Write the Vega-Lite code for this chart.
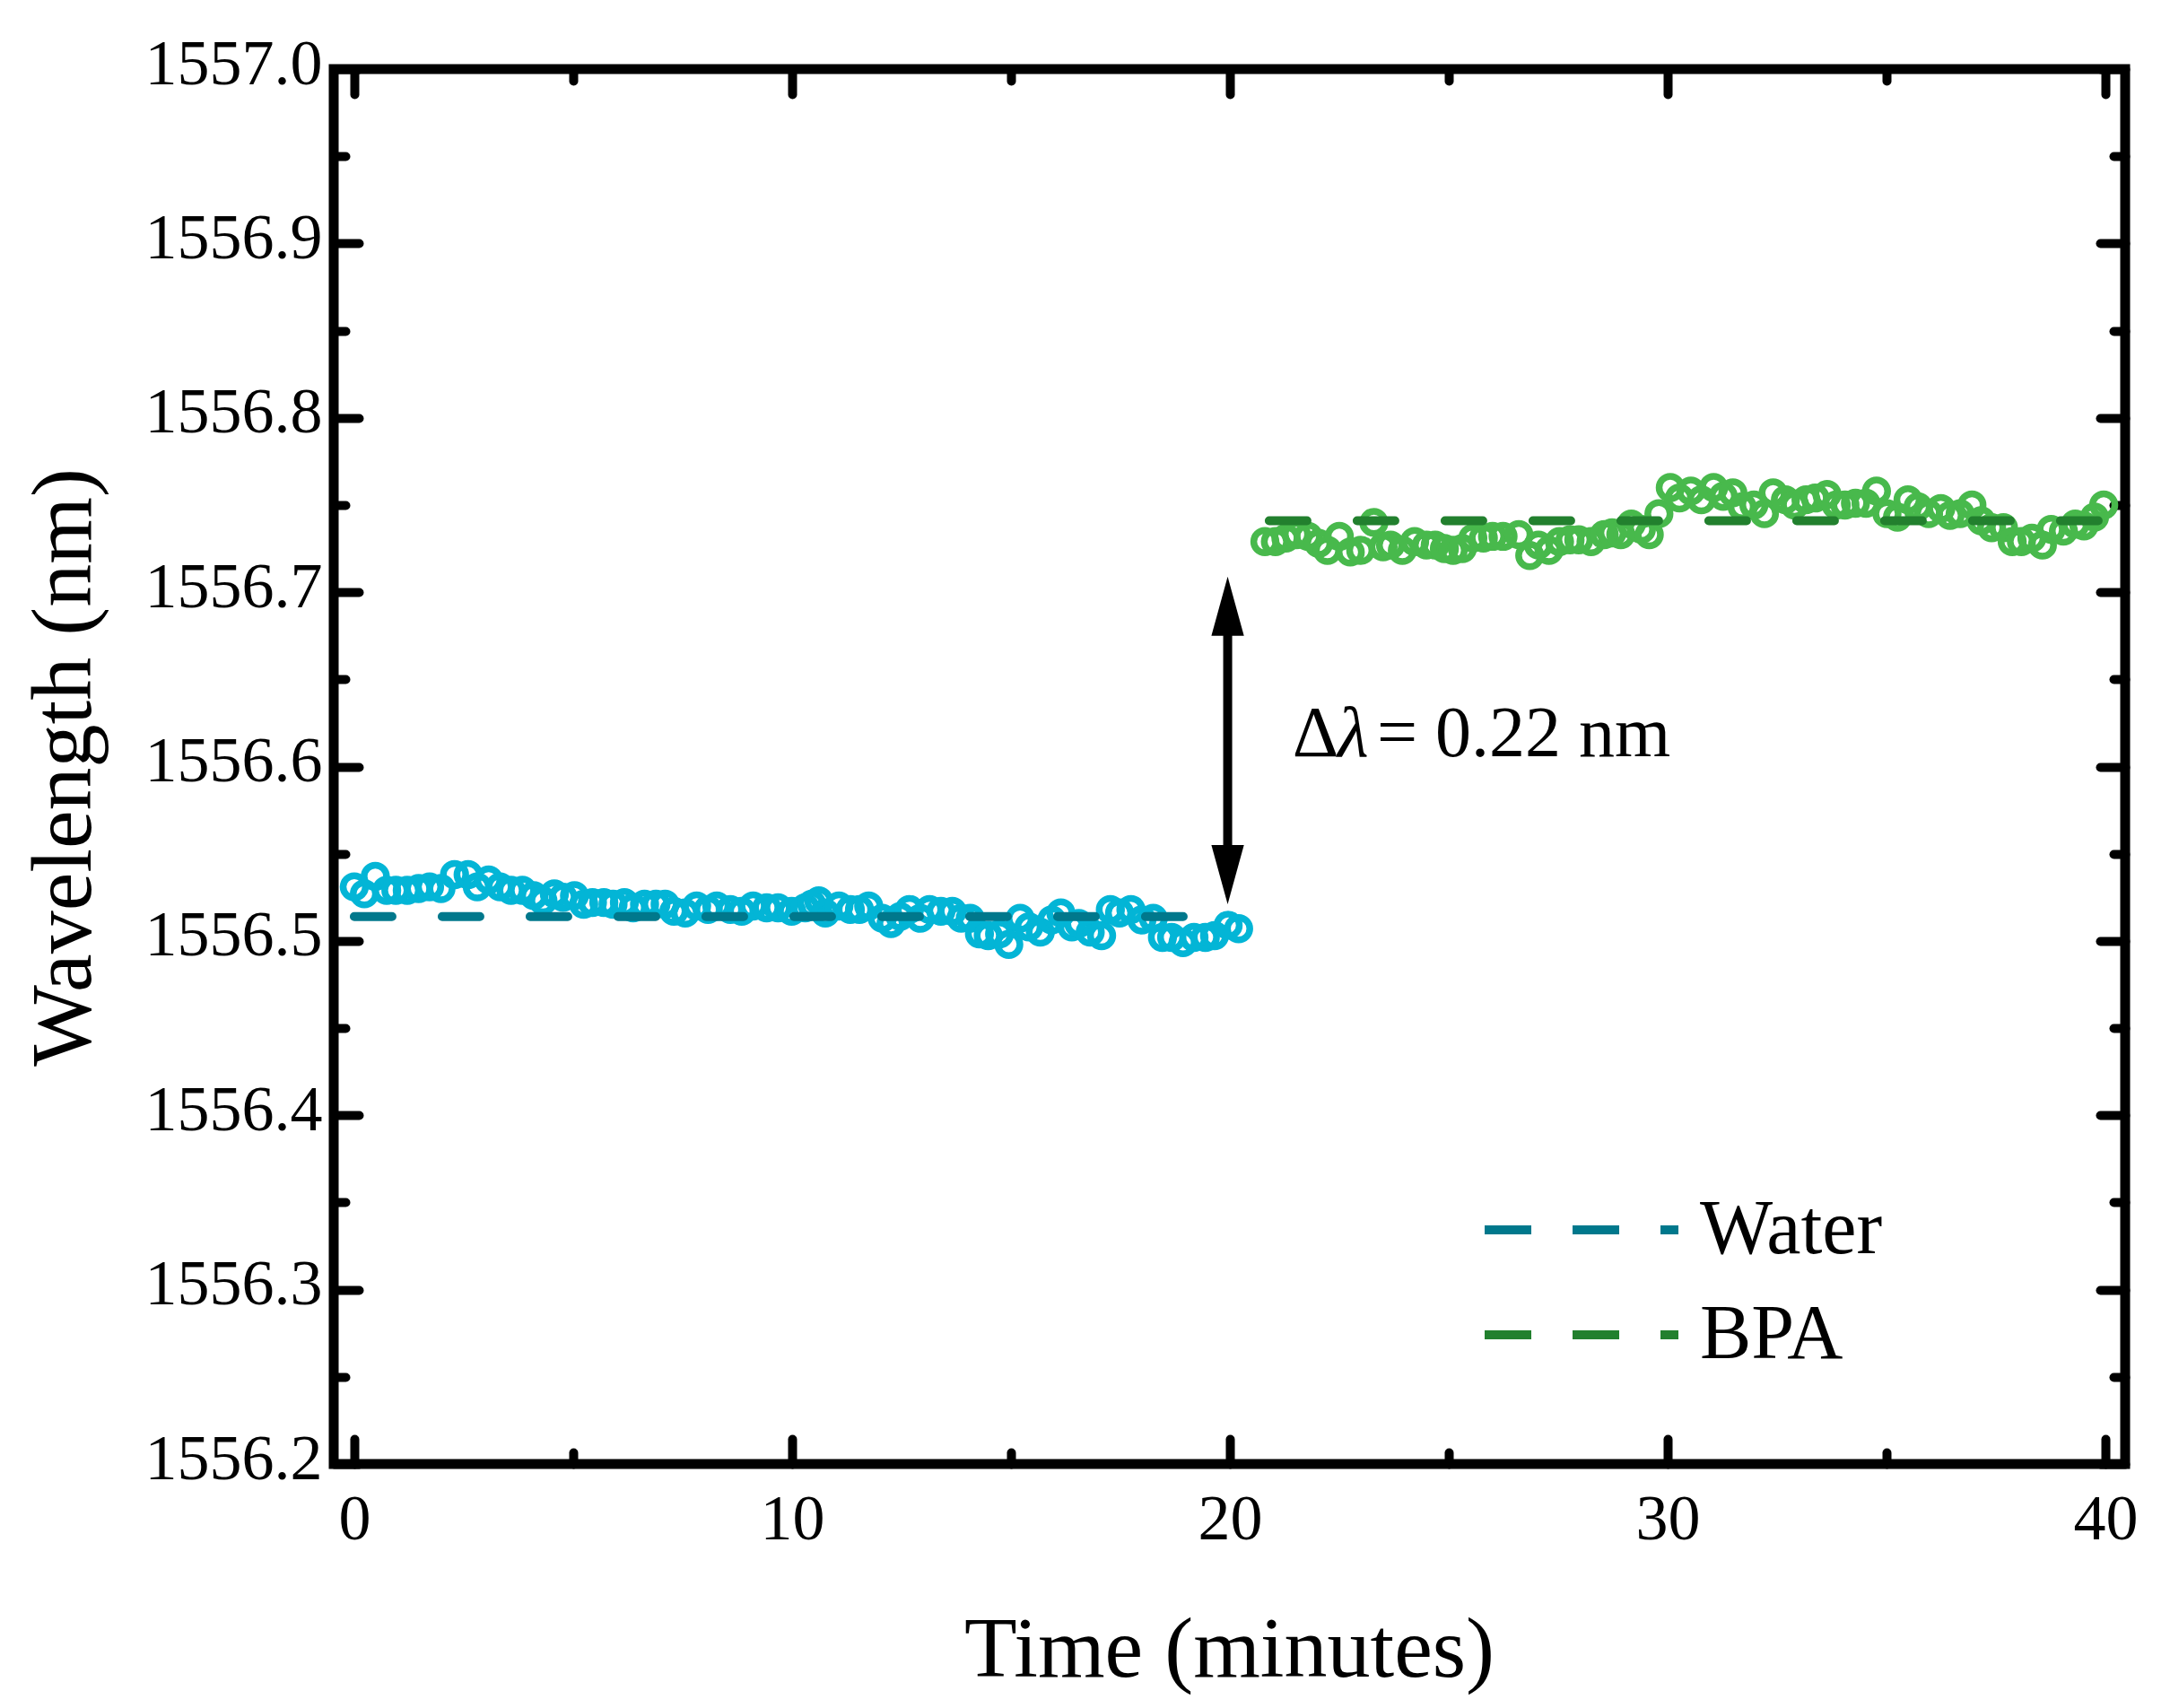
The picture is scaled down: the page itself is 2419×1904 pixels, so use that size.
{
  "$schema": "https://vega.github.io/schema/vega-lite/v6.json",
  "description": "Wavelength shift of the sensor, water then BPA",
  "width": 1997,
  "height": 1555,
  "autosize": {"type": "none"},
  "padding": {"left": 372, "top": 77, "right": 50, "bottom": 272},
  "background": "white",

  "datasets": {
    "water": [
      {"t": 0, "v": 1556.531}, {"t": 0.23, "v": 1556.527}, {"t": 0.48, "v": 1556.537}, {"t": 0.74, "v": 1556.529},
      {"t": 0.95, "v": 1556.529}, {"t": 1.21, "v": 1556.529}, {"t": 1.47, "v": 1556.53}, {"t": 1.72, "v": 1556.531},
      {"t": 1.98, "v": 1556.53}, {"t": 2.29, "v": 1556.538}, {"t": 2.6, "v": 1556.538}, {"t": 2.81, "v": 1556.531},
      {"t": 3.07, "v": 1556.535}, {"t": 3.33, "v": 1556.531}, {"t": 3.58, "v": 1556.529}, {"t": 3.84, "v": 1556.529},
      {"t": 4.1, "v": 1556.526}, {"t": 4.31, "v": 1556.523}, {"t": 4.57, "v": 1556.527}, {"t": 4.77, "v": 1556.525},
      {"t": 5.03, "v": 1556.526}, {"t": 5.24, "v": 1556.521}, {"t": 5.44, "v": 1556.522}, {"t": 5.7, "v": 1556.522},
      {"t": 5.91, "v": 1556.521}, {"t": 6.17, "v": 1556.522}, {"t": 6.37, "v": 1556.519}, {"t": 6.63, "v": 1556.521},
      {"t": 6.89, "v": 1556.521}, {"t": 7.1, "v": 1556.521}, {"t": 7.3, "v": 1556.517}, {"t": 7.56, "v": 1556.516},
      {"t": 7.82, "v": 1556.52}, {"t": 8.08, "v": 1556.518}, {"t": 8.28, "v": 1556.52}, {"t": 8.59, "v": 1556.518},
      {"t": 8.85, "v": 1556.517}, {"t": 9.11, "v": 1556.52}, {"t": 9.42, "v": 1556.519}, {"t": 9.68, "v": 1556.519},
      {"t": 9.99, "v": 1556.517}, {"t": 10.3, "v": 1556.519}, {"t": 10.45, "v": 1556.521}, {"t": 10.61, "v": 1556.523},
      {"t": 10.76, "v": 1556.516}, {"t": 11.07, "v": 1556.52}, {"t": 11.33, "v": 1556.518}, {"t": 11.54, "v": 1556.518},
      {"t": 11.75, "v": 1556.52}, {"t": 12.06, "v": 1556.513}, {"t": 12.26, "v": 1556.51}, {"t": 12.47, "v": 1556.514},
      {"t": 12.68, "v": 1556.518}, {"t": 12.93, "v": 1556.513}, {"t": 13.14, "v": 1556.518}, {"t": 13.4, "v": 1556.517},
      {"t": 13.66, "v": 1556.517}, {"t": 13.86, "v": 1556.513}, {"t": 14.07, "v": 1556.513}, {"t": 14.28, "v": 1556.504},
      {"t": 14.48, "v": 1556.503}, {"t": 14.74, "v": 1556.504}, {"t": 14.95, "v": 1556.498}, {"t": 15.21, "v": 1556.513},
      {"t": 15.41, "v": 1556.508}, {"t": 15.67, "v": 1556.505}, {"t": 15.93, "v": 1556.512}, {"t": 16.14, "v": 1556.516},
      {"t": 16.39, "v": 1556.508}, {"t": 16.55, "v": 1556.51}, {"t": 16.81, "v": 1556.505}, {"t": 17.07, "v": 1556.503},
      {"t": 17.27, "v": 1556.518}, {"t": 17.48, "v": 1556.516}, {"t": 17.74, "v": 1556.518}, {"t": 17.99, "v": 1556.512},
      {"t": 18.25, "v": 1556.513}, {"t": 18.46, "v": 1556.502}, {"t": 18.67, "v": 1556.502}, {"t": 18.93, "v": 1556.499},
      {"t": 19.18, "v": 1556.502}, {"t": 19.44, "v": 1556.502}, {"t": 19.65, "v": 1556.503}, {"t": 19.96, "v": 1556.509},
      {"t": 20.2, "v": 1556.507}
    ],
    "bpa": [
      {"t": 20.8, "v": 1556.729}, {"t": 21.04, "v": 1556.729}, {"t": 21.28, "v": 1556.731}, {"t": 21.52, "v": 1556.733},
      {"t": 21.79, "v": 1556.732}, {"t": 22.03, "v": 1556.728}, {"t": 22.23, "v": 1556.724}, {"t": 22.5, "v": 1556.732},
      {"t": 22.75, "v": 1556.723}, {"t": 22.99, "v": 1556.724}, {"t": 23.29, "v": 1556.74}, {"t": 23.5, "v": 1556.726},
      {"t": 23.67, "v": 1556.727}, {"t": 23.94, "v": 1556.724}, {"t": 24.22, "v": 1556.729}, {"t": 24.49, "v": 1556.727},
      {"t": 24.69, "v": 1556.727}, {"t": 24.9, "v": 1556.725}, {"t": 25.1, "v": 1556.724}, {"t": 25.31, "v": 1556.725},
      {"t": 25.55, "v": 1556.731}, {"t": 25.79, "v": 1556.731}, {"t": 26.0, "v": 1556.732}, {"t": 26.24, "v": 1556.732},
      {"t": 26.6, "v": 1556.733}, {"t": 26.85, "v": 1556.721}, {"t": 27.05, "v": 1556.727}, {"t": 27.29, "v": 1556.724},
      {"t": 27.53, "v": 1556.729}, {"t": 27.77, "v": 1556.73}, {"t": 27.97, "v": 1556.73}, {"t": 28.25, "v": 1556.729},
      {"t": 28.55, "v": 1556.733}, {"t": 28.73, "v": 1556.734}, {"t": 28.93, "v": 1556.733}, {"t": 29.17, "v": 1556.739},
      {"t": 29.4, "v": 1556.736}, {"t": 29.58, "v": 1556.733}, {"t": 29.8, "v": 1556.745}, {"t": 30.06, "v": 1556.76},
      {"t": 30.27, "v": 1556.754}, {"t": 30.53, "v": 1556.758}, {"t": 30.77, "v": 1556.753}, {"t": 31.05, "v": 1556.76},
      {"t": 31.27, "v": 1556.755}, {"t": 31.49, "v": 1556.757}, {"t": 31.7, "v": 1556.749}, {"t": 31.97, "v": 1556.75},
      {"t": 32.21, "v": 1556.745}, {"t": 32.41, "v": 1556.757}, {"t": 32.69, "v": 1556.753}, {"t": 32.9, "v": 1556.75},
      {"t": 33.16, "v": 1556.753}, {"t": 33.37, "v": 1556.754}, {"t": 33.64, "v": 1556.756}, {"t": 33.85, "v": 1556.75},
      {"t": 34.05, "v": 1556.75}, {"t": 34.29, "v": 1556.751}, {"t": 34.53, "v": 1556.751}, {"t": 34.77, "v": 1556.758},
      {"t": 35.01, "v": 1556.745}, {"t": 35.25, "v": 1556.743}, {"t": 35.49, "v": 1556.753}, {"t": 35.72, "v": 1556.749},
      {"t": 35.96, "v": 1556.745}, {"t": 36.24, "v": 1556.748}, {"t": 36.45, "v": 1556.744}, {"t": 36.68, "v": 1556.745},
      {"t": 36.95, "v": 1556.75}, {"t": 37.16, "v": 1556.741}, {"t": 37.4, "v": 1556.737}, {"t": 37.67, "v": 1556.737},
      {"t": 37.87, "v": 1556.729}, {"t": 38.08, "v": 1556.729}, {"t": 38.32, "v": 1556.731}, {"t": 38.56, "v": 1556.727},
      {"t": 38.76, "v": 1556.736}, {"t": 39.04, "v": 1556.735}, {"t": 39.31, "v": 1556.739}, {"t": 39.51, "v": 1556.738},
      {"t": 39.75, "v": 1556.743}, {"t": 39.96, "v": 1556.75}
    ],
    "fits": [
      {"series": "Water", "t": 0, "v": 1556.514},
      {"series": "Water", "t": 20, "v": 1556.514},
      {"series": "BPA", "t": 20.9, "v": 1556.741},
      {"series": "BPA", "t": 40, "v": 1556.741}
    ],
    "arrow": [{"t": 19.95, "v0": 1556.538, "v1": 1556.692}],
    "heads": [
      {"t": 19.95, "v": 1556.692, "dir": "up"},
      {"t": 19.95, "v": 1556.538, "dir": "down"}
    ],
    "notesPlain": [
      {"t": 21.43, "v": 1556.606, "label": "Δ"},
      {"t": 23.36, "v": 1556.606, "label": "= 0.22 nm"}
    ],
    "notesItalic": [
      {"t": 22.46, "v": 1556.606, "label": "λ"}
    ]
  },

  "layer": [
    {
      "data": {"name": "water"},
      "mark": {"type": "point", "filled": false, "color": "#03B5D6", "strokeWidth": 7.5, "size": 620, "opacity": 1},
      "encoding": {
        "x": {"field": "t", "type": "quantitative",
              "scale": {"domain": [-0.47, 40.45], "nice": false, "zero": false},
              "axis": {"orient": "bottom", "values": [0, 10, 20, 30, 40], "tickSize": -28,
                       "labelPadding": 54, "title": "Time (minutes)",
                       "titleX": 998, "titleY": 236, "titleBaseline": "alphabetic", "titleAlign": "center"}},
        "y": {"field": "v", "type": "quantitative",
              "scale": {"domain": [1556.2, 1557.0], "nice": false, "zero": false},
              "axis": {"orient": "left", "values": [1556.2, 1556.3, 1556.4, 1556.5, 1556.6, 1556.7, 1556.8, 1556.9, 1557.0],
                       "format": ".1f", "tickSize": -28, "labelPadding": 41, "labelOffset": -6,
                       "title": "Wavelength (nm)", "titleX": -272, "titleY": 778,
                       "titleBaseline": "alphabetic", "titleAlign": "center", "titleAngle": -90}}
      }
    },
    {
      "data": {"name": "bpa"},
      "mark": {"type": "point", "filled": false, "color": "#48B94C", "strokeWidth": 7.5, "size": 620, "opacity": 1},
      "encoding": {
        "x": {"field": "t", "type": "quantitative",
              "axis": {"orient": "bottom", "values": [5, 15, 25, 35], "tickSize": -13, "labels": false, "title": null}},
        "y": {"field": "v", "type": "quantitative",
              "axis": {"orient": "left", "values": [1556.25, 1556.35, 1556.45, 1556.55, 1556.65, 1556.75, 1556.85, 1556.95],
                       "tickSize": -13, "labels": false, "title": null}}
      }
    },
    {
      "data": {"name": "fits"},
      "mark": {"type": "line", "strokeWidth": 10, "strokeDash": [42, 56], "strokeCap": "round"},
      "encoding": {
        "x": {"field": "t", "type": "quantitative",
              "axis": {"orient": "top", "values": [0, 10, 20, 30, 40], "tickSize": -28, "labels": false, "title": null}},
        "y": {"field": "v", "type": "quantitative",
              "axis": {"orient": "right", "values": [1556.2, 1556.3, 1556.4, 1556.5, 1556.6, 1556.7, 1556.8, 1556.9, 1557.0],
                       "tickSize": -28, "labels": false, "title": null}},
        "color": {"field": "series", "type": "nominal",
                  "scale": {"domain": ["Water", "BPA"], "range": ["#00788C", "#22802E"]},
                  "legend": {"title": null, "orient": "none", "legendX": 1278, "legendY": 1251,
                             "symbolType": "stroke", "symbolSize": 46656, "symbolStrokeWidth": 10,
                             "symbolDash": [52, 46], "labelOffset": 19, "clipHeight": 86, "rowPadding": 31,
                             "labelLimit": 0,
                             "labelFont": "Liberation Serif", "labelFontSize": 86, "labelColor": "black"}}
      }
    },
    {
      "data": {"name": "arrow"},
      "mark": {"type": "rule", "color": "black", "strokeWidth": 10},
      "encoding": {
        "x": {"field": "t", "type": "quantitative",
              "axis": {"orient": "top", "values": [5, 15, 25, 35], "tickSize": -13, "labels": false, "title": null}},
        "y": {"field": "v0", "type": "quantitative",
              "axis": {"orient": "right", "values": [1556.25, 1556.35, 1556.45, 1556.55, 1556.65, 1556.75, 1556.85, 1556.95],
                       "tickSize": -13, "labels": false, "title": null}},
        "y2": {"field": "v1"}
      }
    },
    {
      "data": {"name": "heads"},
      "mark": {"type": "point", "filled": true, "color": "black", "opacity": 1, "size": 4356, "strokeWidth": 0},
      "encoding": {
        "x": {"field": "t", "type": "quantitative", "axis": null},
        "y": {"field": "v", "type": "quantitative", "axis": null},
        "shape": {"field": "dir", "type": "nominal", "legend": null,
                  "scale": {"domain": ["up", "down"],
                            "range": ["M0,-1L0.55,1L-0.55,1Z", "M0,1L0.55,-1L-0.55,-1Z"]}}
      }
    },
    {
      "data": {"name": "notesPlain"},
      "mark": {"type": "text", "font": "Liberation Serif", "fontSize": 80, "color": "black",
               "align": "left", "baseline": "alphabetic"},
      "encoding": {
        "x": {"field": "t", "type": "quantitative", "axis": null},
        "y": {"field": "v", "type": "quantitative", "axis": null},
        "text": {"field": "label"}
      }
    },
    {
      "data": {"name": "notesItalic"},
      "mark": {"type": "text", "font": "Liberation Serif", "fontSize": 80, "fontStyle": "italic", "color": "black",
               "align": "left", "baseline": "alphabetic"},
      "encoding": {
        "x": {"field": "t", "type": "quantitative", "axis": null},
        "y": {"field": "v", "type": "quantitative", "axis": null},
        "text": {"field": "label"}
      }
    }
  ],

  "resolve": {"axis": {"x": "independent", "y": "independent"}},

  "config": {
    "view": {"stroke": "black", "strokeWidth": 11},
    "axis": {
      "domain": false, "grid": false,
      "tickColor": "black", "tickWidth": 10, "tickCap": "round",
      "labelFont": "Liberation Serif", "labelFontSize": 72, "labelColor": "black", "labelLimit": 0,
      "labelOverlap": false, "labelFlush": false, "labelBound": false,
      "titleFont": "Liberation Serif", "titleFontSize": 96, "titleFontWeight": "normal", "titleColor": "black"
    }
  }
}
